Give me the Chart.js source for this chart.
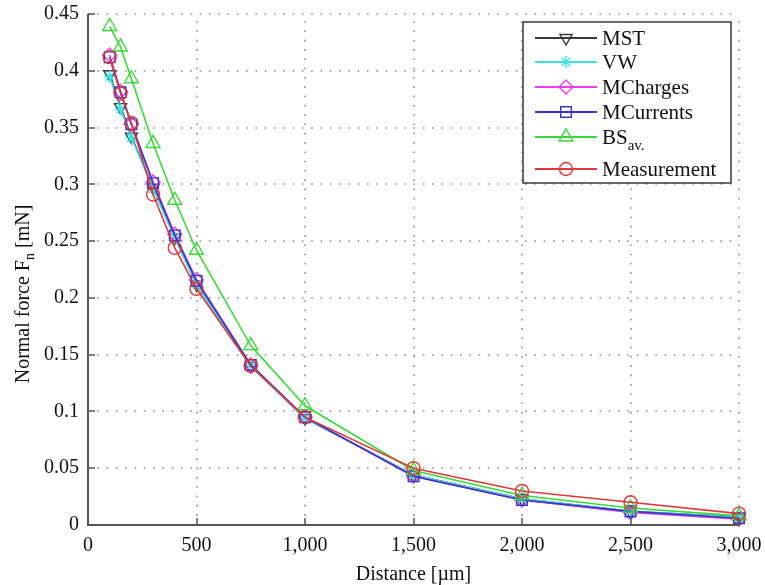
<!DOCTYPE html>
<html>
<head>
<meta charset="utf-8">
<style>
html,body{margin:0;padding:0;background:#fff;}
canvas{display:block;}
</style>
<script src="https://cdn.jsdelivr.net/npm/chart.js@4/dist/chart.umd.min.js"></script>
</head>
<body>
<canvas id="c" width="765" height="585"></canvas>
<script>
// ---- data ----
const distances = [100, 150, 200, 300, 400, 500, 750, 1000, 1500, 2000, 2500, 3000];
const mst        = [0.397, 0.368, 0.342, 0.297, 0.253, 0.212, 0.140, 0.094, 0.044, 0.023, 0.012, 0.007];
const vw         = [0.395, 0.366, 0.341, 0.296, 0.253, 0.212, 0.140, 0.094, 0.044, 0.023, 0.012, 0.007];
const mCharges   = [0.414, 0.382, 0.353, 0.302, 0.256, 0.216, 0.141, 0.095, 0.043, 0.022, 0.011, 0.005];
const mCurrents  = [0.412, 0.381, 0.353, 0.301, 0.255, 0.215, 0.141, 0.095, 0.043, 0.022, 0.012, 0.006];
const bsAv       = [0.439, 0.421, 0.393, 0.336, 0.286, 0.242, 0.158, 0.105, 0.048, 0.026, 0.015, 0.008];
const measurement= [0.412, 0.380, 0.354, 0.291, 0.244, 0.208, 0.140, 0.095, 0.050, 0.030, 0.020, 0.010];

const xTickValues = [0, 500, 1000, 1500, 2000, 2500, 3000];
const xTickLabels = ['0', '500', '1,000', '1,500', '2,000', '2,500', '3,000'];
const yTickValues = [0, 0.05, 0.1, 0.15, 0.2, 0.25, 0.3, 0.35, 0.4, 0.45];
const yTickLabels = ['0', '0.05', '0.1', '0.15', '0.2', '0.25', '0.3', '0.35', '0.4', '0.45'];

const seriesNames = ['MST', 'VW', 'MCharges', 'MCurrents', 'BS', 'Measurement'];
const seriesSubs  = ['', '', '', '', 'av.', ''];
const seriesData  = [mst, vw, mCharges, mCurrents, bsAv, measurement];
const seriesColors = ['#3a3a3a', '#3ee0e0', '#ee3cee', '#3636c8', '#3ad83a', '#dc3a3a'];
const seriesMarkers = [
  {style: 'triangle', rotation: 180, radius: 7},
  {style: 'star', rotation: 0, radius: 6},
  {style: 'rectRot', rotation: 0, radius: 7},
  {style: 'rect', rotation: 0, radius: 7.5},
  {style: 'triangle', rotation: 0, radius: 8},
  {style: 'circle', rotation: 0, radius: 6.5}
];

const FONT = '"Liberation Serif", "Times New Roman", serif';

const datasets = seriesNames.map((n, i) => ({
  label: n + seriesSubs[i],
  data: distances.map((d, j) => ({x: d, y: seriesData[i][j]})),
  borderColor: seriesColors[i],
  backgroundColor: 'rgba(0,0,0,0)',
  borderWidth: 1.6,
  pointStyle: seriesMarkers[i].style,
  pointRotation: seriesMarkers[i].rotation,
  pointRadius: seriesMarkers[i].radius,
  pointBorderWidth: 1.4,
  pointBackgroundColor: 'rgba(0,0,0,0)',
  pointBorderColor: seriesColors[i],
  tension: 0,
  clip: false,
  order: seriesNames.length - i
}));

function drawMarker(ctx, style, rot, r, x, y) {
  ctx.beginPath();
  let rad = rot * Math.PI / 180;
  if (style === 'circle') {
    ctx.arc(x, y, r, 0, Math.PI * 2);
  } else if (style === 'triangle') {
    ctx.moveTo(x + Math.sin(rad) * r, y - Math.cos(rad) * r);
    rad += 2 * Math.PI / 3;
    ctx.lineTo(x + Math.sin(rad) * r, y - Math.cos(rad) * r);
    rad += 2 * Math.PI / 3;
    ctx.lineTo(x + Math.sin(rad) * r, y - Math.cos(rad) * r);
    ctx.closePath();
  } else if (style === 'rect') {
    const s = r * Math.SQRT1_2;
    ctx.rect(x - s, y - s, 2 * s, 2 * s);
  } else if (style === 'rectRot') {
    ctx.moveTo(x, y - r); ctx.lineTo(x + r, y); ctx.lineTo(x, y + r); ctx.lineTo(x - r, y); ctx.closePath();
  } else if (style === 'star') {
    for (let k = 0; k < 4; k++) {
      const a = k * Math.PI / 4;
      ctx.moveTo(x + Math.cos(a) * r, y + Math.sin(a) * r);
      ctx.lineTo(x - Math.cos(a) * r, y - Math.sin(a) * r);
    }
  }
  ctx.stroke();
}

const gridPlugin = {
  id: 'dotgrid',
  beforeDatasetsDraw(chart) {
    const {ctx, chartArea: a, scales: {x, y}} = chart;
    ctx.save();
    ctx.strokeStyle = '#8c8c8c';
    ctx.lineWidth = 1.6;
    ctx.setLineDash([1.6, 7.7]);
    ctx.beginPath();
    xTickValues.forEach(v => {
      if (v === 0) return;
      const px = Math.round(x.getPixelForValue(v));
      ctx.moveTo(px, a.bottom); ctx.lineTo(px, a.top);
    });
    yTickValues.forEach(v => {
      if (v === 0) return;
      const py = Math.round(y.getPixelForValue(v));
      ctx.moveTo(a.left, py); ctx.lineTo(a.right, py);
    });
    ctx.stroke();
    ctx.restore();
  }
};

const decorPlugin = {
  id: 'decor',
  afterDraw(chart) {
    const {ctx, chartArea: a, scales: {x, y}} = chart;
    ctx.save();
    // left and bottom axes
    ctx.strokeStyle = '#555';
    ctx.lineWidth = 2;
    ctx.beginPath();
    ctx.moveTo(a.left, a.top); ctx.lineTo(a.left, a.bottom); ctx.lineTo(a.right, a.bottom);
    ctx.stroke();
    // inward ticks
    ctx.lineWidth = 1.5;
    const L = 7;
    ctx.beginPath();
    xTickValues.forEach(v => {
      const px = Math.round(x.getPixelForValue(v));
      ctx.moveTo(px, a.bottom); ctx.lineTo(px, a.bottom - L);
    });
    yTickValues.forEach(v => {
      const py = Math.round(y.getPixelForValue(v));
      ctx.moveTo(a.left, py); ctx.lineTo(a.left + L, py);
    });
    ctx.stroke();

    // axis titles
    ctx.fillStyle = '#111';
    ctx.textBaseline = 'alphabetic';
    ctx.font = '20px ' + FONT;
    ctx.textAlign = 'center';
    ctx.fillText('Distance [\u00B5m]', (a.left + a.right) / 2, 580);

    // y title with subscript
    ctx.save();
    ctx.translate(29, 294);
    ctx.rotate(-Math.PI / 2);
    ctx.textAlign = 'left';
    const p1 = 'Normal force F', sub = 'n', p2 = ' [mN]';
    ctx.font = '20px ' + FONT;
    const w1 = ctx.measureText(p1).width, w3 = ctx.measureText(p2).width;
    ctx.font = '14px ' + FONT;
    const w2 = ctx.measureText(sub).width;
    let sx = -(w1 + w2 + w3) / 2;
    ctx.font = '20px ' + FONT;
    ctx.fillText(p1, sx, 0);
    ctx.font = '14px ' + FONT;
    ctx.fillText(sub, sx + w1, 5);
    ctx.font = '20px ' + FONT;
    ctx.fillText(p2, sx + w1 + w2, 0);
    ctx.restore();

    // legend
    const lx = 523, ly = 22, lw = 208, lh = 161;
    ctx.fillStyle = '#fff';
    ctx.fillRect(lx, ly, lw, lh);
    ctx.strokeStyle = '#3a3a3a';
    ctx.lineWidth = 1.5;
    ctx.strokeRect(lx, ly, lw, lh);
    const rowsY = [38, 62, 87, 112, 137, 169];
    seriesNames.forEach((n, i) => {
      const ry = rowsY[i];
      ctx.strokeStyle = seriesColors[i];
      ctx.lineWidth = 1.8;
      ctx.beginPath();
      ctx.moveTo(535, ry); ctx.lineTo(597, ry);
      ctx.stroke();
      ctx.lineWidth = 1.4;
      const m = seriesMarkers[i];
      drawMarker(ctx, m.style, m.rotation, m.radius, 566, ry);
      ctx.fillStyle = '#111';
      ctx.textAlign = 'left';
      ctx.textBaseline = 'alphabetic';
      ctx.font = '21px ' + FONT;
      ctx.fillText(n, 602, ry + 7);
      if (seriesSubs[i]) {
        const w = ctx.measureText(n).width;
        ctx.font = '15px ' + FONT;
        ctx.fillText(seriesSubs[i], 602 + w, ry + 13);
      }
    });
    ctx.restore();
  }
};

new Chart(document.getElementById('c'), {
  type: 'line',
  data: {datasets},
  options: {
    responsive: false,
    animation: false,
    devicePixelRatio: 1,
    layout: {padding: {top: 14, right: 26, left: 0, bottom: 0}},
    plugins: {legend: {display: false}, tooltip: {enabled: false}},
    scales: {
      x: {
        type: 'linear',
        min: 0, max: 3000,
        afterFit(s) { s.height = 60; s.paddingLeft = 0; s.paddingRight = 0; },
        afterBuildTicks(s) { s.ticks = xTickValues.map(v => ({value: v})); },
        ticks: {
          padding: 9,
          color: '#111',
          font: {family: FONT, size: 20},
          maxRotation: 0,
          autoSkip: false,
          callback: (v) => xTickLabels[xTickValues.indexOf(v)]
        },
        grid: {display: false, drawTicks: false},
        border: {display: false}
      },
      y: {
        type: 'linear',
        min: 0, max: 0.45,
        afterFit(s) { s.width = 88; s.paddingTop = 0; s.paddingBottom = 0; },
        afterBuildTicks(s) { s.ticks = yTickValues.map(v => ({value: v})); },
        ticks: {
          padding: 9,
          color: '#111',
          font: {family: FONT, size: 20},
          autoSkip: false,
          callback: (v) => {
            const k = yTickValues.findIndex(t => Math.abs(t - v) < 1e-9);
            return k >= 0 ? yTickLabels[k] : '';
          }
        },
        grid: {display: false, drawTicks: false},
        border: {display: false}
      }
    }
  },
  plugins: [gridPlugin, decorPlugin]
});
</script>
</body>
</html>
